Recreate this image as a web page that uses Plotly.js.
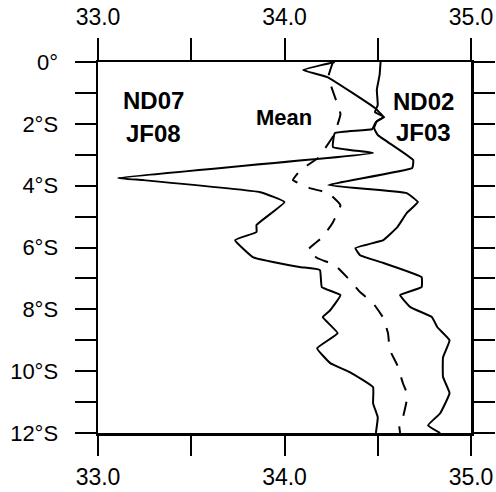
<!DOCTYPE html>
<html>
<head>
<meta charset="utf-8">
<script src="https://cdn.plot.ly/plotly-3.0.1.min.js"></script>
<style>html,body{margin:0;padding:0;background:#fff;}#chart{width:496px;height:492px;}</style>
</head>
<body>
<div id="chart"></div>
<script>
// ND07/JF08 profile (left solid line)
const nd07Lat = [0,0.26,0.49,1.49,1.78,1.94,2.17,2.30,2.75,2.94,3.75,3.82,4.21,4.53,5.27,5.50,5.76,6.31,6.63,6.73,7.28,7.54,8.03,8.25,8.77,9.26,9.74,10.03,10.52,11.04,11.49,12.0];
const nd07Sal = [34.27,34.10,34.23,34.485,34.53,34.49,34.47,34.27,34.26,34.475,33.107,33.24,33.87,34.00,33.85,33.85,33.735,33.83,34.08,34.19,34.20,34.30,34.245,34.205,34.285,34.175,34.245,34.35,34.475,34.475,34.50,34.49];

// ND02/JF03 profile (right solid line)
const nd02Lat = [0,0.42,0.9,1.39,1.62,1.78,1.91,2.14,2.36,3.17,3.43,3.98,4.24,4.53,4.89,5.34,5.76,6.02,6.25,6.50,6.96,7.28,7.54,7.93,8.25,8.58,9.0,9.55,10.19,10.71,11.36,11.75,12.0];
const nd02Sal = [34.515,34.51,34.495,34.50,34.485,34.535,34.495,34.48,34.50,34.69,34.685,34.235,34.655,34.715,34.655,34.605,34.53,34.38,34.405,34.53,34.735,34.735,34.62,34.675,34.79,34.82,34.885,34.85,34.85,34.885,34.835,34.77,34.835];

// Mean profile (dashed line)
const meanLat = [0,0.49,1.68,2.36,3.1,3.5,3.82,4.08,4.24,4.63,5.18,5.66,6.08,6.34,6.57,6.96,7.44,7.8,8.28,8.77,9.32,9.81,10.39,10.78,11.49,11.75,12.0];
const meanSal = [34.26,34.235,34.30,34.265,34.18,34.085,34.045,34.135,34.235,34.30,34.26,34.205,34.125,34.175,34.27,34.335,34.405,34.475,34.53,34.555,34.565,34.605,34.635,34.66,34.635,34.615,34.62];

const xTickVals = [33.0,33.5,34.0,34.5,35.0];
const xTickText = ["33.0","","34.0","","35.0"];
const yTickVals = [0,1,2,3,4,5,6,7,8,9,10,11,12];
const yTickText = ["0°","","2°S","","4°S","","6°S","","8°S","","10°S","","12°S"];

const lineStyle = {color:'#000', width:2, shape:'spline', smoothing:0.3};
const traces = [
  {x: nd07Sal, y: nd07Lat, type:'scatter', mode:'lines', line: lineStyle, xaxis:'x', yaxis:'y', hoverinfo:'skip'},
  {x: meanSal, y: meanLat, type:'scatter', mode:'lines', line: {color:'#000', width:2, dash:'14px,12px', shape:'spline', smoothing:0.3}, xaxis:'x', yaxis:'y', hoverinfo:'skip'},
  {x: nd02Sal, y: nd02Lat, type:'scatter', mode:'lines', line: lineStyle, xaxis:'x2', yaxis:'y', hoverinfo:'skip'}
];

const tickFontX = {family:'Liberation Sans, Arial, sans-serif', size:23, color:'#000'};
const tickFontY = {family:'Liberation Sans, Arial, sans-serif', size:22, color:'#000'};

function ann(text, x, y, size){
  return {text:'<b>'+text+'</b>', xref:'paper', yref:'paper', x:x, y:y, xanchor:'center', yanchor:'middle', showarrow:false,
          font:{family:'Liberation Sans, Arial, sans-serif', size:size, color:'#000'}};
}

const layout = {
  width:496, height:492,
  margin:{l:98, r:25, t:62, b:59, pad:0},
  paper_bgcolor:'#fff', plot_bgcolor:'#fff',
  showlegend:false,
  xaxis:{range:[33,35], tickvals:xTickVals, ticktext:xTickText, ticks:'outside', ticklen:20, tickwidth:2, tickcolor:'#000',
         showline:true, linewidth:2.5, linecolor:'#000', mirror:true, showgrid:false, zeroline:false, tickfont:tickFontX, ticklabelstandoff:2},
  xaxis2:{range:[33,35], overlaying:'x', side:'top', anchor:'y', tickvals:xTickVals, ticktext:xTickText, ticks:'outside', ticklen:22, tickwidth:2, tickcolor:'#000',
         showline:true, linewidth:2.5, linecolor:'#000', showgrid:false, zeroline:false, tickfont:tickFontX, ticklabelstandoff:3},
  yaxis:{range:[12,0], tickvals:yTickVals, ticktext:yTickText, ticks:'outside', ticklen:21, tickwidth:2, tickcolor:'#000',
         showline:true, linewidth:2.5, linecolor:'#000', mirror:'allticks', showgrid:false, zeroline:false, tickfont:tickFontY, ticklabelstandoff:12},
  annotations:[
    ann('ND07', 0.1488, 0.895, 24),
    ann('JF08', 0.1488, 0.808, 24),
    ann('Mean', 0.4987, 0.850, 22),
    ann('ND02', 0.8727, 0.894, 24),
    ann('JF03', 0.8727, 0.810, 24)
  ]
};

Plotly.newPlot('chart', traces, layout, {staticPlot:true, displayModeBar:false});
</script>
</body>
</html>
